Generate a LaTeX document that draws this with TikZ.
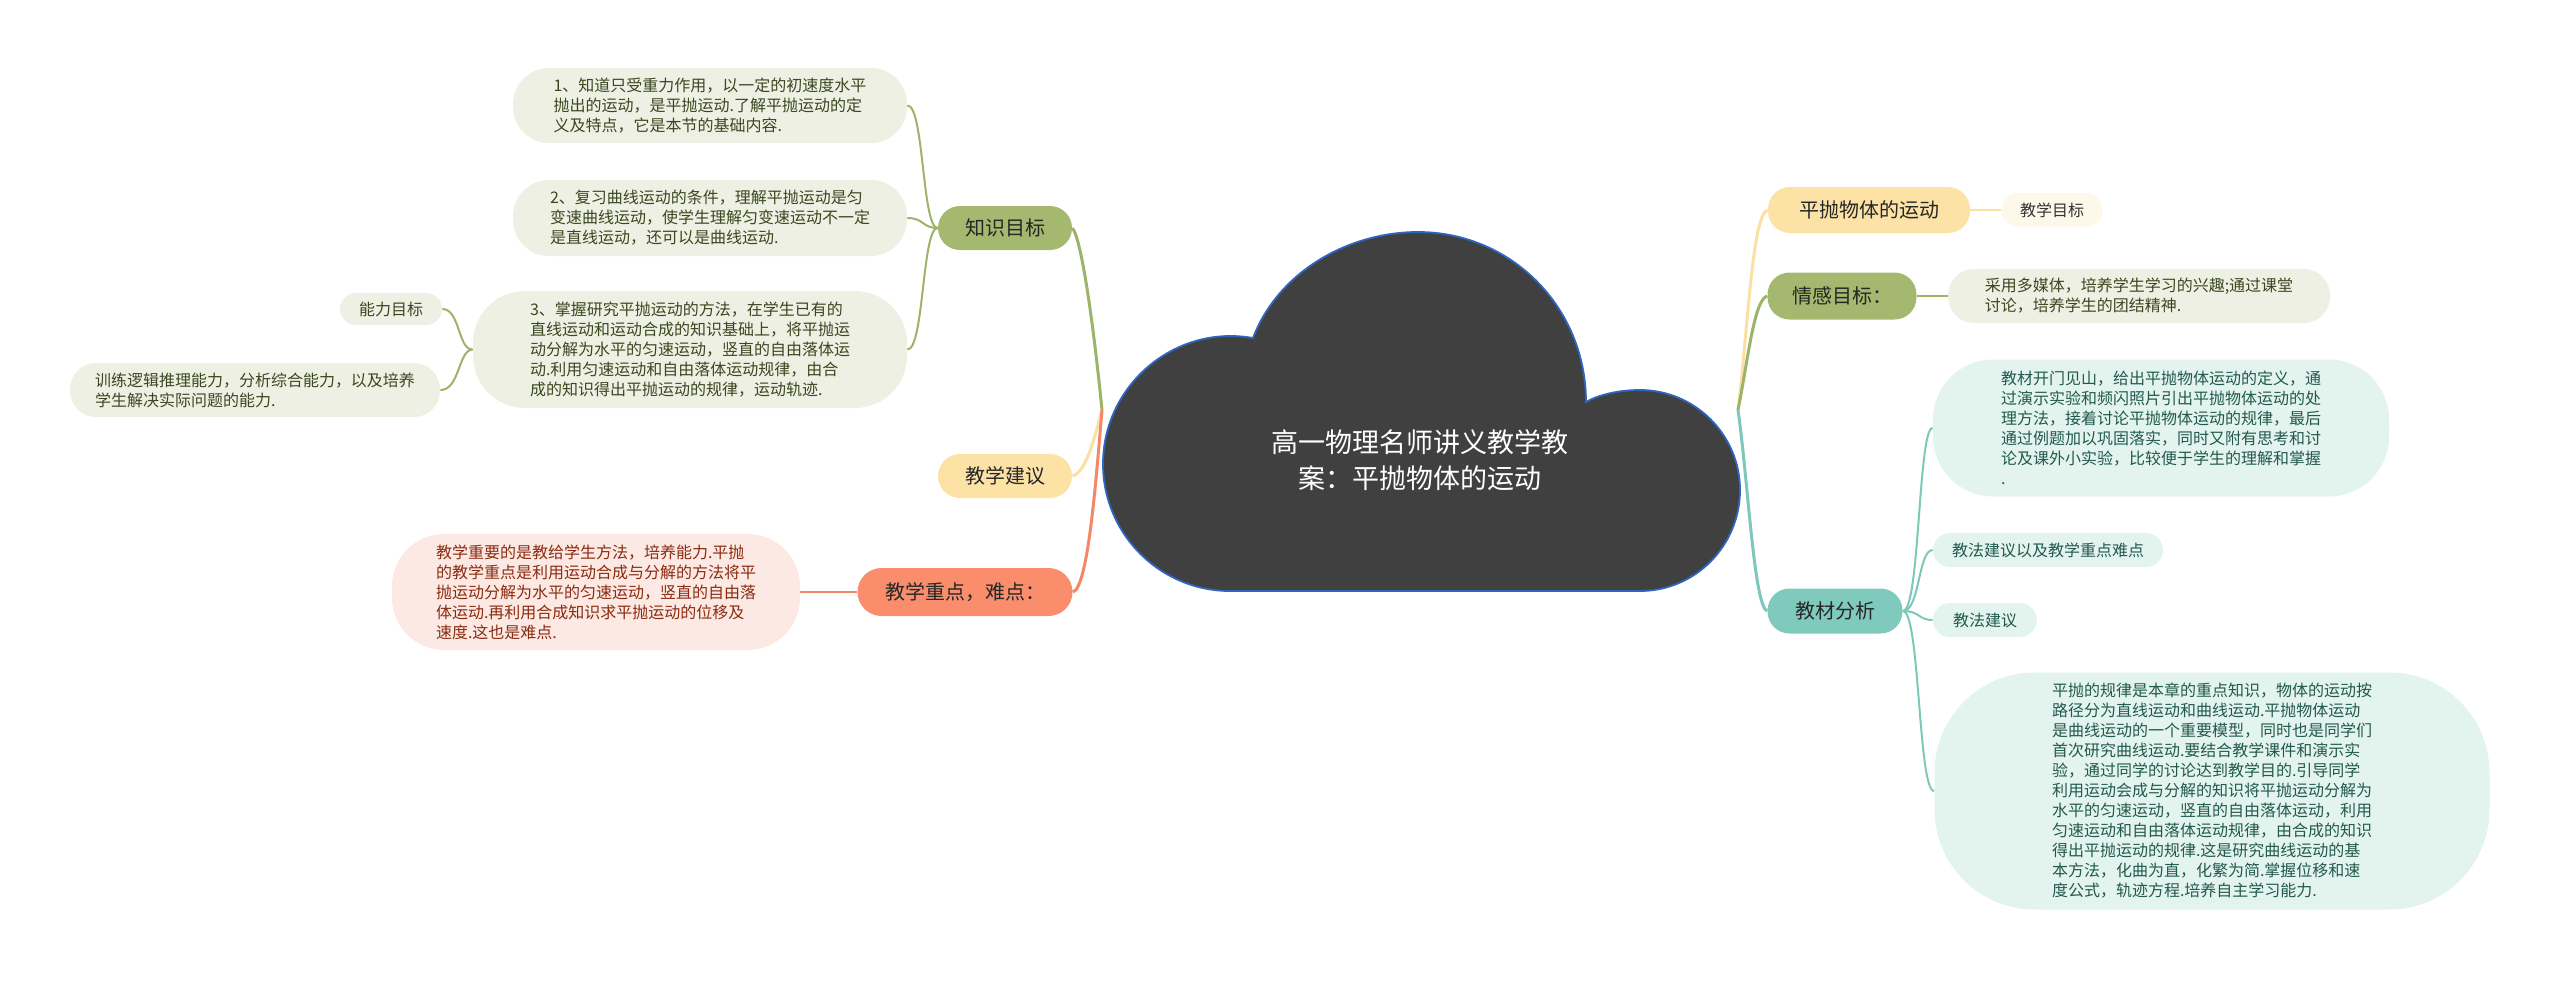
\documentclass[tikz,border=0pt]{standalone}
\usepackage{fontspec}
\setmainfont{Noto Sans CJK SC}

\definecolor{gnode}{HTML}{A4B86F}
\definecolor{gbox}{HTML}{EEF0E4}
\definecolor{gtext}{HTML}{3B4720}
\definecolor{gline}{HTML}{9DB36A}
\definecolor{ynode}{HTML}{FDE2A6}
\definecolor{ybox}{HTML}{FEF8EA}
\definecolor{yline}{HTML}{FBE0A2}
\definecolor{onode}{HTML}{F98D6C}
\definecolor{obox}{HTML}{FDE9E3}
\definecolor{otext}{HTML}{8A2B10}
\definecolor{oline}{HTML}{F48866}
\definecolor{tnode}{HTML}{80CABD}
\definecolor{tbox}{HTML}{E3F4EF}
\definecolor{ttext}{HTML}{22594C}
\definecolor{tline}{HTML}{7DC8B8}
\definecolor{cloudfill}{HTML}{404040}
\definecolor{cloudline}{HTML}{2F66C0}

\begin{document}
\begin{tikzpicture}[x=0.5pt, y=-0.5pt,
  topic/.style={rounded corners=11pt, inner sep=0pt, text=black!85,
    font=\fontsize{10}{12}\selectfont},
  note/.style={inner sep=0pt, align=left, font=\fontsize{8}{10}\selectfont},
  gtop/.style={topic, fill=gnode},
  ytop/.style={topic, fill=ynode},
  otop/.style={topic, fill=onode},
  ttop/.style={topic, fill=tnode},
  gbox/.style={note, fill=gbox, text=gtext},
  ybox/.style={note, fill=ybox, text=black!80},
  obox/.style={note, fill=obox, text=otext},
  tbox/.style={note, fill=tbox, text=ttext},
  main/.style={line width=1.5pt},
  sub/.style={line width=1pt}]

  \useasboundingbox (0,0) rectangle (2560,981);

  % Cloud in the middle
  \filldraw[fill=cloudfill, draw=cloudline, line width=0.9pt]
    (1230,591) -- (1640,591)
    .. controls (1695,591) and (1740,546) .. (1740,490)
    .. controls (1740,435) and (1695,390) .. (1640,390)
    .. controls (1618,390) and (1598,395) .. (1586,402)
    .. controls (1586,307) and (1511,232) .. (1418,232)
    .. controls (1348,232) and (1278,272) .. (1253,338)
    .. controls (1175,324) and (1103,385) .. (1103,464)
    .. controls (1103,534) and (1160,591) .. (1230,591) -- cycle;
  \node[align=center, text=white, font=\fontsize{13.5}{18}\selectfont]
    (root) at (1420,460) {高一物理名师讲义教学教\\案：平抛物体的运动};

  % Fan points
  \coordinate (lf) at (1102,410);
  \coordinate (rf) at (1738,410);

  % Left branches
  \node[gtop, minimum width=67pt, minimum height=22pt] (kz) at (1005,228) {知识目标};
  \node[gbox, minimum width=197pt, minimum height=37.5pt, rounded corners=18pt] (k1) at (710,105.5)
    {1、知道只受重力作用，以一定的初速度水平\\抛出的运动，是平抛运动.了解平抛运动的定\\义及特点，它是本节的基础内容.};
  \node[gbox, minimum width=197pt, minimum height=38pt, rounded corners=18pt] (k2) at (710,218)
    {2、复习曲线运动的条件，理解平抛运动是匀\\变速曲线运动，使学生理解匀变速运动不一定\\是直线运动，还可以是曲线运动.};
  \node[gbox, minimum width=217pt, minimum height=58.5pt, rounded corners=26pt] (k3) at (690,349.5)
    {3、掌握研究平抛运动的方法，在学生已有的\\直线运动和运动合成的知识基础上，将平抛运\\动分解为水平的匀速运动，竖直的自由落体运\\动.利用匀速运动和自由落体运动规律，由合\\成的知识得出平抛运动的规律，运动轨迹.};
  \node[gbox, minimum width=51pt, minimum height=16pt, rounded corners=8pt] (nl) at (391,309) {能力目标};
  \node[gbox, minimum width=185pt, minimum height=27pt, rounded corners=13pt] (xl) at (255,390)
    {训练逻辑推理能力，分析综合能力，以及培养\\学生解决实际问题的能力.};

  \node[ytop, minimum width=67pt, minimum height=22pt] (jy) at (1005,476) {教学建议};

  \node[otop, minimum width=107.5pt, minimum height=24pt, rounded corners=12pt] (zd) at (965,592) {教学重点，难点：};
  \node[obox, minimum width=204pt, minimum height=58pt, rounded corners=26pt] (zdt) at (596,592)
    {教学重要的是教给学生方法，培养能力.平抛\\的教学重点是利用运动合成与分解的方法将平\\抛运动分解为水平的匀速运动，竖直的自由落\\体运动.再利用合成知识求平抛运动的位移及\\速度.这也是难点.};

  % Right branches
  \node[ytop, minimum width=101pt, minimum height=23pt] (pp) at (1869,210) {平抛物体的运动};
  \node[ybox, minimum width=50.5pt, minimum height=17pt, rounded corners=8.5pt] (jm) at (2052,210) {教学目标};

  \node[gtop, minimum width=74.5pt, minimum height=23.5pt] (qg) at (1842,296) {情感目标：};
  \node[gbox, minimum width=191pt, minimum height=27pt, rounded corners=13pt] (qgt) at (2139,296)
    {采用多媒体，培养学生学习的兴趣;通过课堂\\讨论，培养学生的团结精神.};

  \node[ttop, minimum width=67.5pt, minimum height=22.5pt] (jc) at (1835,611) {教材分析};
  \node[tbox, minimum width=228pt, minimum height=68.5pt, rounded corners=30pt] (jc1) at (2161,428)
    {教材开门见山，给出平抛物体运动的定义，通\\过演示实验和频闪照片引出平抛物体运动的处\\理方法，接着讨论平抛物体运动的规律，最后\\通过例题加以巩固落实，同时又附有思考和讨\\论及课外小实验，比较便于学生的理解和掌握\\.};
  \node[tbox, minimum width=115pt, minimum height=17pt, rounded corners=8.5pt] (jc2) at (2048,550) {教法建议以及教学重点难点};
  \node[tbox, minimum width=52pt, minimum height=17pt, rounded corners=8.5pt] (jc3) at (1985,620) {教法建议};
  \node[tbox, minimum width=277.5pt, minimum height=118.5pt, rounded corners=50pt] (jc4) at (2212,791)
    {平抛的规律是本章的重点知识，物体的运动按\\路径分为直线运动和曲线运动.平抛物体运动\\是曲线运动的一个重要模型，同时也是同学们\\首次研究曲线运动.要结合教学课件和演示实\\验，通过同学的讨论达到教学目的.引导同学\\利用运动会成与分解的知识将平抛运动分解为\\水平的匀速运动，竖直的自由落体运动，利用\\匀速运动和自由落体运动规律，由合成的知识\\得出平抛运动的规律.这是研究曲线运动的基\\本方法，化曲为直，化繁为简.掌握位移和速\\度公式，轨迹方程.培养自主学习能力.};

  % Connectors from the cloud
  \draw[main, gline] (lf) .. controls (1094,330) and (1082,240) .. (kz.east);
  \draw[main, yline] (lf) .. controls (1094,440) and (1086,472) .. (jy.east);
  \draw[main, oline] (lf) .. controls (1096,480) and (1088,588) .. (zd.east);
  \draw[main, yline] (rf) .. controls (1748,330) and (1752,215) .. (pp.west);
  \draw[main, gline] (rf) .. controls (1748,360) and (1754,300) .. (qg.west);
  \draw[main, tline] (rf) .. controls (1748,480) and (1754,606) .. (jc.west);

  % Connectors to the notes
  \foreach \n/\y in {k1/105, k2/218, k3/350}
    \draw[sub, gline] (kz.west) .. controls (922,228) and (924,\y) .. (\n.east);
  \foreach \n/\y in {nl/309, xl/390}
    \draw[sub, gline] (k3.west) .. controls (458,350) and (460,\y) .. (\n.east);
  \draw[sub, oline] (zd.west) -- (zdt.east);
  \draw[sub, yline] (pp.east) -- (jm.west);
  \draw[sub, gline] (qg.east) -- (qgt.west);
  \foreach \n/\y in {jc1/428, jc2/550, jc3/620, jc4/791}
    \draw[sub, tline] (jc.east) .. controls (1920,611) and (1918,\y) .. (\n.west);

\end{tikzpicture}
\end{document}
